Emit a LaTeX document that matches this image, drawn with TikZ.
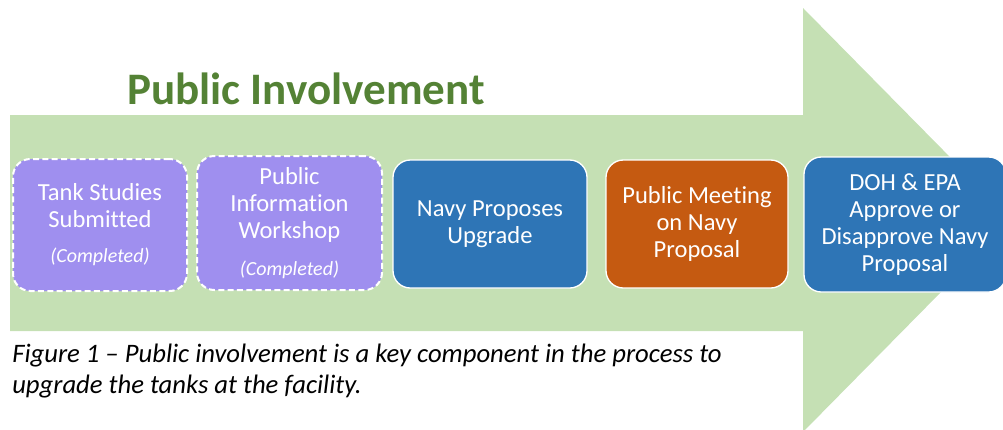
\documentclass[tikz,border=0pt]{standalone}
\usepackage{fontspec}
\setmainfont{Carlito}[Ligatures={NoCommon}]
\definecolor{arrowgreen}{RGB}{197,224,180}
\definecolor{titlegreen}{RGB}{84,130,53}
\definecolor{lavender}{RGB}{159,143,239}
\definecolor{navyblue}{RGB}{46,117,182}
\definecolor{burnt}{RGB}{197,90,17}
\tikzset{
  stagebox/.style={rounded corners=13pt, align=center, text=white, inner sep=0pt,
    font=\fontsize{18.4}{20.3}\selectfont},
  donebox/.style={stagebox, fill=lavender, draw=white, line width=1.5pt,
    dash pattern=on 4.5pt off 2.5pt},
  openbox/.style={stagebox, draw=white, line width=1pt},
}
\newcommand{\donetext}{{\fontsize{15}{17}\selectfont\itshape (Completed)}}
\begin{document}
\begin{tikzpicture}[x=0.75pt,y=-0.75pt]
\useasboundingbox (0,0) rectangle (1003,429);
\clip (0,0) rectangle (1003,429);
% big arrow
\fill[arrowgreen] (10,115) -- (803,115) -- (803,8) -- (1012,220) -- (803,432)
  -- (803,331) -- (10,331) -- cycle;
% title
\node[anchor=base, text=titlegreen, font=\fontsize{33.8}{40}\selectfont\bfseries]
  (title) at (306,104) {Public Involvement};
% stages
\node[donebox, minimum width=130.5pt, minimum height=99pt] (b1) at (100,225)
  {Tank Studies\\Submitted\\[6pt]\donetext};
\node[donebox, minimum width=138.75pt, minimum height=100.5pt] (b2) at (289.5,223)
  {Public\\Information\\Workshop\\[7pt]\donetext};
\node[openbox, fill=navyblue, minimum width=145.5pt, minimum height=96pt] (b3) at (490,224)
  {Navy Proposes\\Upgrade};
\node[openbox, fill=burnt, minimum width=136.5pt, minimum height=96pt] (b4) at (697,224)
  {Public Meeting\\on Navy\\Proposal};
\node[openbox, fill=navyblue, minimum width=151.5pt, minimum height=101.25pt] (b5) at (905,224.5)
  {DOH \& EPA\\Approve or\\Disapprove Navy\\Proposal};
% caption (base anchor = last line)
\node[anchor=base west, align=left, inner sep=0pt,
  font=\fontsize{20}{23.25}\selectfont\itshape] (caption) at (12,393)
  {Figure 1 – Public involvement is a key component in the process to\\upgrade the tanks at the facility.};
\end{tikzpicture}
\end{document}
